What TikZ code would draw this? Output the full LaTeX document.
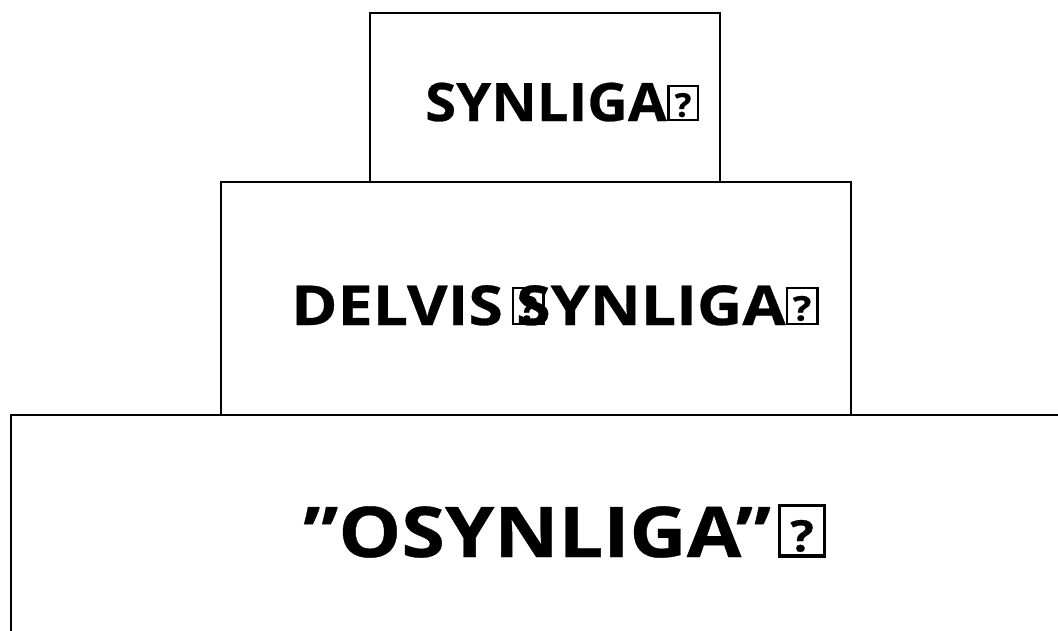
\documentclass[tikz,border=0pt]{standalone}
\usepackage{fontspec}
\setmainfont{Open Sans}
\newfontfamily\fta{Open Sans}[FakeStretch=1.06,FakeBold=0.5]
\newfontfamily\ftb{Open Sans}[FakeStretch=1.14,FakeBold=0.5]
\newfontfamily\ftc{Open Sans}[FakeStretch=1.13,FakeBold=0.5]
\newcommand\tofubox[2]{\raisebox{0.08em}{\setlength{\fboxsep}{0.035em}\setlength{\fboxrule}{0.045em}\fbox{\makebox[#1]{\fontsize{0.62em}{0.7em}\selectfont\bfseries ?}\rule{0pt}{#2}}}}
\begin{document}
\begin{tikzpicture}[x=1pt,y=-1pt,
  tier/.style={draw=black,line width=1.6pt},
  lbl/.style={anchor=base west,inner sep=0pt}]
\useasboundingbox (0,0) rectangle (1058,630);
\begin{scope}
\clip (0,0) rectangle (1058,630);
\draw[tier] (11,415) rectangle (1080,660);
\end{scope}
\draw[tier] (221,182) rectangle (851,415);
\draw[tier] (370,13) rectangle (720,182);
\node[lbl,font=\fta\bfseries\fontsize{53}{60}\selectfont] (top) at (425,121) {SYNLIGA\hspace{0.01em}\tofubox{0.44em}{0.52em}};
\node[lbl,font=\ftb\bfseries\fontsize{55}{62}\selectfont] (mid) at (291,325) {DELVIS\hspace{0.16em}\rlap{\tofubox{0.44em}{0.54em}}\hspace{0.08em}SYNLIGA\tofubox{0.44em}{0.54em}};
\node[lbl,font=\ftc\bfseries\fontsize{70}{78}\selectfont] (bot) at (303,557) {”OSYNLIGA”\hspace{0.1em}\tofubox{0.53em}{0.6em}};
\end{tikzpicture}
\end{document}
